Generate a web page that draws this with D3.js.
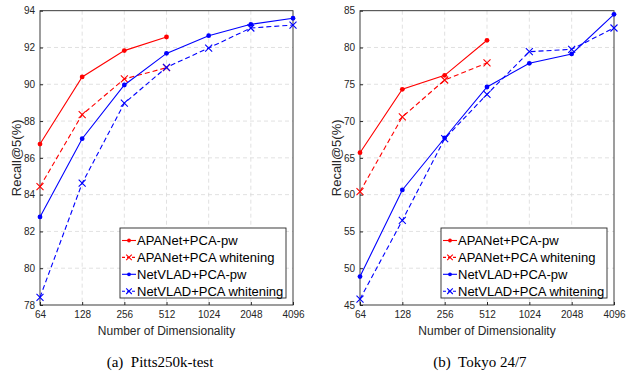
<!DOCTYPE html>
<html>
<head>
<meta charset="utf-8">
<script src="https://cdn.jsdelivr.net/npm/d3@7"></script>
<style>
  body { margin: 0; background: #fff; }
  svg { display: block; }
</style>
</head>
<body>
<svg id="chart" width="626" height="372"></svg>
<script>
const dims = [64, 128, 256, 512, 1024, 2048, 4096];
const seriesNames = ["APANet+PCA-pw", "APANet+PCA whitening", "NetVLAD+PCA-pw", "NetVLAD+PCA whitening"];

// Pitts250k-test
const pittsApanetPw = [86.75, 90.4, 91.83, 92.57];
const pittsApanetWh = [84.43, 88.35, 90.29, 90.9];
const pittsNetvladPw = [82.79, 87.04, 89.96, 91.68, 92.64, 93.26, 93.59];
const pittsNetvladWh = [78.42, 84.62, 88.97, 90.92, 91.97, 93.06, 93.22];
const pittsTicks = [78, 80, 82, 84, 86, 88, 90, 92, 94];

// Tokyo 24/7
const tokyoApanetPw = [65.7, 74.32, 76.22, 80.98];
const tokyoApanetWh = [60.4, 70.56, 75.58, 77.9];
const tokyoNetvladPw = [48.86, 60.64, 67.7, 74.63, 77.85, 79.12, 84.51];
const tokyoNetvladWh = [45.8, 56.5, 67.6, 73.64, 79.43, 79.75, 82.65];
const tokyoTicks = [45, 50, 55, 60, 65, 70, 75, 80, 85];

const styles = [
  { color: "#ff0000", dash: null, marker: "dot" },
  { color: "#ff0000", dash: "5,3", marker: "x" },
  { color: "#0000ff", dash: null, marker: "dot" },
  { color: "#0000ff", dash: "5,3", marker: "x" }
];

const svg = d3.select("#chart");
const axisColor = "#262626";
const sans = "'Liberation Sans', Arial, sans-serif";

function drawPanel(left, right, top, bottom, ticks, data, caption, capX) {
  const g = svg.append("g");
  const x = d3.scaleLog().base(2).domain([64, 4096]).range([left, right]);
  const y = d3.scaleLinear().domain([ticks[0], ticks[ticks.length - 1]]).range([bottom, top]);

  // grid
  g.append("g").selectAll("line")
    .data(dims.slice(1, -1))
    .join("line")
    .attr("x1", d => x(d)).attr("x2", d => x(d))
    .attr("y1", top).attr("y2", bottom)
    .attr("stroke", "#d9d9d9").attr("stroke-dasharray", "4,3").attr("stroke-width", 0.8);
  g.append("g").selectAll("line")
    .data(ticks.slice(1, -1))
    .join("line")
    .attr("x1", left).attr("x2", right)
    .attr("y1", d => y(d)).attr("y2", d => y(d))
    .attr("stroke", "#d9d9d9").attr("stroke-dasharray", "4,3").attr("stroke-width", 0.8);

  // axes
  const xAxis = g.append("g")
    .attr("transform", `translate(0,${bottom})`)
    .call(d3.axisBottom(x).tickValues(dims).tickFormat(d3.format("d")).tickSize(-3).tickPadding(6).tickSizeOuter(0));
  const yAxis = g.append("g")
    .attr("transform", `translate(${left},0)`)
    .call(d3.axisLeft(y).tickValues(ticks).tickSize(-3).tickPadding(5).tickSizeOuter(0));
  [xAxis, yAxis].forEach(a => {
    a.select(".domain").remove();
    a.selectAll("line").attr("stroke", axisColor);
    a.selectAll("text").attr("fill", axisColor)
      .style("font-family", sans).style("font-size", "10px");
  });

  // box
  g.append("rect")
    .attr("x", left).attr("y", top)
    .attr("width", right - left).attr("height", bottom - top)
    .attr("fill", "none").attr("stroke", axisColor).attr("stroke-width", 0.9);

  // series
  const line = d3.line().x((d, i) => x(dims[i])).y(d => y(d));
  data.forEach((vals, si) => {
    const st = styles[si];
    g.append("path")
      .attr("d", line(vals))
      .attr("fill", "none").attr("stroke", st.color).attr("stroke-width", 1.1)
      .attr("stroke-dasharray", st.dash);
    vals.forEach((v, i) => drawMarker(g, x(dims[i]), y(v), st, 1));
  });

  // labels
  g.append("text")
    .attr("x", (left + right) / 2).attr("y", bottom + 30)
    .attr("text-anchor", "middle").attr("fill", axisColor)
    .style("font-family", sans).style("font-size", "12px")
    .text("Number of Dimensionality");
  g.append("text")
    .attr("transform", `translate(${left - 19.5},${(top + bottom) / 2}) rotate(-90)`)
    .attr("text-anchor", "middle").attr("fill", axisColor)
    .style("font-family", sans).style("font-size", "13px")
    .text("Recall@5(%)");
  g.append("text")
    .attr("x", capX).attr("y", 367)
    .attr("text-anchor", "middle").attr("fill", "#000")
    .style("font-family", "'Liberation Serif', 'DejaVu Serif', serif").style("font-size", "15px")
    .style("white-space", "pre")
    .text(caption);

  // legend
  const lx = right - 173, ly = bottom - 77, lw = 166, lh = 70;
  const leg = g.append("g");
  leg.append("rect")
    .attr("x", lx).attr("y", ly).attr("width", lw).attr("height", lh)
    .attr("fill", "#fff").attr("stroke", axisColor).attr("stroke-width", 0.9);
  seriesNames.forEach((name, i) => {
    const st = styles[i];
    const yy = ly + 12.5 + i * 16.9;
    leg.append("line")
      .attr("x1", lx + 2).attr("x2", lx + 16).attr("y1", yy).attr("y2", yy)
      .attr("stroke", st.color).attr("stroke-width", 1.1)
      .attr("stroke-dasharray", st.dash ? "3,2" : null);
    drawMarker(leg, lx + 9, yy, st, 0.8);
    leg.append("text")
      .attr("x", lx + 17).attr("y", yy + 4.7)
      .attr("fill", "#000")
      .style("font-family", sans).style("font-size", "13px")
      .text(name);
  });
}

function drawMarker(g, cx, cy, st, k) {
  if (st.marker === "dot") {
    g.append("circle").attr("cx", cx).attr("cy", cy).attr("r", 2.4 * k).attr("fill", st.color);
  } else {
    const s = 3.5 * k;
    g.append("path")
      .attr("d", `M${cx - s},${cy - s}L${cx + s},${cy + s}M${cx - s},${cy + s}L${cx + s},${cy - s}`)
      .attr("stroke", st.color).attr("stroke-width", 1.1).attr("fill", "none");
  }
}

drawPanel(40, 293, 10.7, 305, pittsTicks,
  [pittsApanetPw, pittsApanetWh, pittsNetvladPw, pittsNetvladWh], "(a)  Pitts250k-test", 160);
drawPanel(360, 614, 10.7, 305, tokyoTicks,
  [tokyoApanetPw, tokyoApanetWh, tokyoNetvladPw, tokyoNetvladWh], "(b)  Tokyo 24/7", 480);
</script>
</body>
</html>
